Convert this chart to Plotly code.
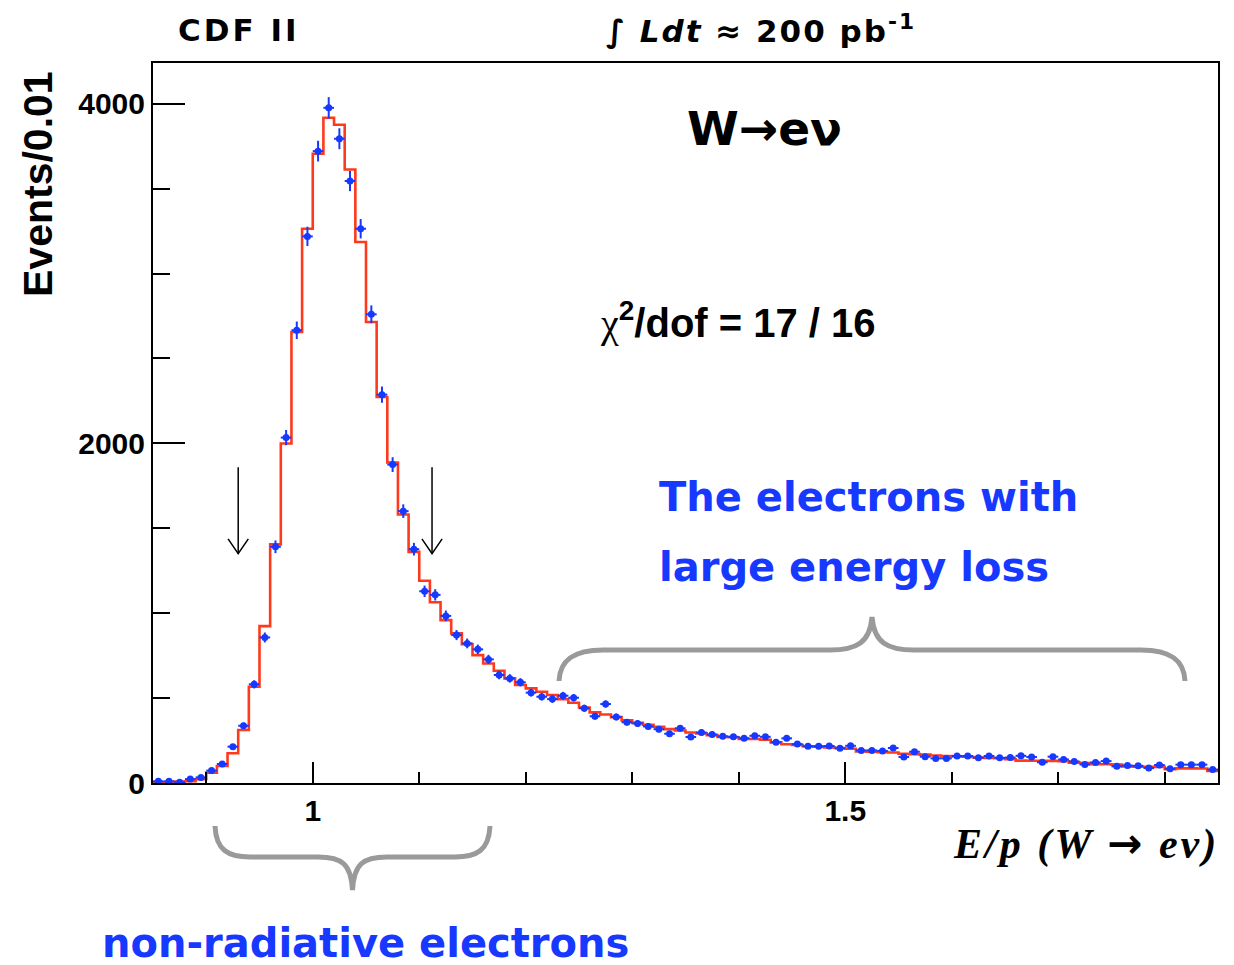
import numpy as np
import plotly.graph_objects as go

# ---------------- data ----------------
BIN_LOW = 0.85
BIN_WIDTH = 0.01
N_BINS = 100
bin_edges = np.round(BIN_LOW + BIN_WIDTH * np.arange(N_BINS + 1), 3)
bin_centers = np.round(bin_edges[:-1] + BIN_WIDTH / 2, 4)

# red histogram (model), one value per bin, 0.85 ... 1.84 low edges
model_counts = [
    2, 3, 8, 10, 22, 61, 100, 175, 312, 567,
    924, 1405, 1999, 2656, 3264, 3706, 3918, 3876, 3613, 3186,
    2715, 2273, 1887, 1581, 1361, 1191, 1064, 959, 881, 818,
    753, 704, 661, 616, 577, 557, 537, 518, 494, 473,
    445, 416, 403, 388, 369, 354, 343, 331, 317, 309,
    297, 292, 282, 271, 269, 259, 259, 255, 239, 228,
    224, 216, 214, 210, 206, 202, 186, 184, 182, 180,
    172, 170, 167, 162, 158, 156, 155, 150, 148, 146,
    140, 132, 131, 131, 130, 128, 120, 118, 110, 110,
    108, 98, 96, 96, 95, 82, 86, 86, 85, 71,
]

# blue data points, one value per bin centre 0.855 ... 1.845
data_counts = [
    10, 10, 5, 23, 33, 73, 112, 214, 337, 581,
    857, 1391, 2034, 2666, 3219, 3721, 3976, 3794, 3545, 3264,
    2760, 2287, 1875, 1601, 1377, 1129, 1108, 984, 871, 822,
    787, 728, 636, 616, 593, 532, 508, 494, 514, 502,
    440, 393, 465, 389, 358, 351, 333, 317, 290, 322,
    271, 297, 285, 275, 272, 264, 278, 272, 240, 263,
    229, 216, 216, 218, 204, 219, 192, 192, 189, 206,
    153, 184, 155, 145, 145, 159, 159, 149, 159, 148,
    150, 160, 153, 122, 155, 139, 127, 109, 121, 129,
    98, 103, 101, 88, 106, 84, 108, 108, 108, 79,
]
# vertical error bars seen in the picture are the Poisson sqrt(N) bars
data_errors = np.sqrt(np.array(data_counts, dtype=float))

x_tick_vals = [1.0, 1.5]
x_tick_text = ["1", "1.5"]
y_tick_vals = [0, 2000, 4000]
y_tick_text = ["0", "2000", "4000"]

X_RANGE = [0.85, 1.85]
Y_RANGE = [0, 4240]

arrow_x = [0.93, 1.112]
arrow_y_top = 1860
arrow_y_tip = 1350

# ---------------- figure geometry ----------------
W, H = 1234, 965
ML, MR, MT, MB = 153, 16, 63, 182
PW, PH = W - ML - MR, H - MT - MB

def px(xp):
    return (xp - ML) / PW

def py(yp):
    return (H - MB - yp) / PH

BLUE = "#1638ff"
RED = "#ff3a1c"
GREY = "#9a9a9a"

fig = go.Figure()

# model histogram as a step line
fig.add_trace(go.Scatter(
    x=list(bin_edges),
    y=list(model_counts) + [model_counts[-1]],
    mode="lines",
    line=dict(color=RED, width=2.6, shape="hv"),
    hoverinfo="skip",
    showlegend=False,
))

# data points with errors
fig.add_trace(go.Scatter(
    x=bin_centers,
    y=data_counts,
    mode="markers",
    marker=dict(color=BLUE, size=7, symbol="circle"),
    error_y=dict(type="data", array=data_errors, color=BLUE, thickness=2, width=0),
    error_x=dict(type="constant", value=BIN_WIDTH / 2, color=BLUE, thickness=2, width=0),
    showlegend=False,
))

shapes = []
# arrows (open heads)
for ax in arrow_x:
    shapes.append(dict(type="line", xref="x", yref="y", x0=ax, x1=ax,
                       y0=arrow_y_top, y1=arrow_y_tip,
                       line=dict(color="black", width=1.5)))
    shapes.append(dict(type="path", xref="x", yref="y",
                       path=f"M {ax-0.0095},{arrow_y_tip+88} L {ax},{arrow_y_tip} L {ax+0.0095},{arrow_y_tip+88}",
                       line=dict(color="black", width=1.5)))

def brace_path(pts_cmds):
    out = []
    for cmd in pts_cmds:
        if isinstance(cmd, str):
            out.append(cmd)
        else:
            out.append(f"{px(cmd[0]):.5f},{py(cmd[1]):.5f}")
    return " ".join(out)

# lower brace (non-radiative)
lower = brace_path([
    "M", (215, 826),
    "C", (216, 850), (228, 857), (250, 857),
    "L", (318, 857),
    "C", (342, 857), (351, 864), (352.5, 890),
    "C", (354, 864), (363, 857), (387, 857),
    "L", (455, 857),
    "C", (477, 857), (489, 850), (490, 826),
])
# upper brace (large energy loss)
upper = brace_path([
    "M", (559, 681),
    "C", (560, 659), (575, 650), (603, 650),
    "L", (830, 650),
    "C", (856, 650), (870, 643), (872, 617),
    "C", (874, 643), (888, 650), (914, 650),
    "L", (1141, 650),
    "C", (1169, 650), (1184, 659), (1185, 681),
])
for p in (lower, upper):
    shapes.append(dict(type="path", xref="paper", yref="paper", path=p,
                       line=dict(color=GREY, width=5)))

COMIC = "DejaVu Sans"
ann = []
def add_text(text, x, y, size, family=COMIC, color="black", xanchor="center",
             weight="bold", style="normal", angle=0):
    ann.append(dict(text=text, x=px(x), y=py(y), xref="paper", yref="paper",
                    showarrow=False, xanchor=xanchor, yanchor="middle",
                    textangle=angle,
                    font=dict(family=family, size=size, color=color,
                              weight=weight, style=style)))

add_text("<span style='letter-spacing:3px'>CDF II</span>", 239, 30, 31)
add_text("<span style='letter-spacing:2px'>∫ <i>Ldt</i> ≈ 200 pb<sup>-1</sup></span>", 761, 30, 31)
add_text("W→eν", 764, 128, 47)
add_text("<span style='font-family:Liberation Serif;font-weight:normal'>χ</span><sup>2</sup>/dof = 17 / 16",
         738, 321, 40, family="Liberation Sans")
add_text("The electrons with", 657, 497, 40, color=BLUE, xanchor="left")
add_text("large energy loss", 657, 567, 40, color=BLUE, xanchor="left")
add_text("non-radiative electrons", 100, 943, 40, color=BLUE, xanchor="left")
add_text("Events/0.01", 38, 184, 41, family="Liberation Sans", angle=-90)
add_text("<span style='letter-spacing:3px'>E/p (W <span style='font-family:DejaVu Sans;font-style:normal'>→</span> eν)</span>",
         1221, 843, 42, family="Liberation Serif", xanchor="right", style="italic")

tickfont = dict(family="Liberation Sans", size=30, color="black", weight="bold")

fig.update_layout(
    width=W, height=H,
    margin=dict(l=ML, r=MR, t=MT, b=MB),
    paper_bgcolor="white", plot_bgcolor="white",
    shapes=shapes, annotations=ann,
    xaxis=dict(range=X_RANGE, showgrid=False, zeroline=False,
               showline=True, mirror=True, linecolor="black", linewidth=2,
               ticks="inside", ticklen=21, tickwidth=2, tickcolor="black",
               tickvals=x_tick_vals, ticktext=x_tick_text, tickfont=tickfont,
               minor=dict(dtick=0.1, tick0=0.8, ticks="inside", ticklen=11,
                          tickwidth=2, tickcolor="black", showgrid=False)),
    yaxis=dict(range=Y_RANGE, showgrid=False, zeroline=False,
               showline=True, mirror=True, linecolor="black", linewidth=2,
               ticks="inside", ticklen=32, tickwidth=2, tickcolor="black",
               tickvals=y_tick_vals, ticktext=y_tick_text, tickfont=tickfont,
               minor=dict(dtick=500, tick0=0, ticks="inside", ticklen=17,
                          tickwidth=2, tickcolor="black", showgrid=False)),
)

fig.write_html("out.html")
